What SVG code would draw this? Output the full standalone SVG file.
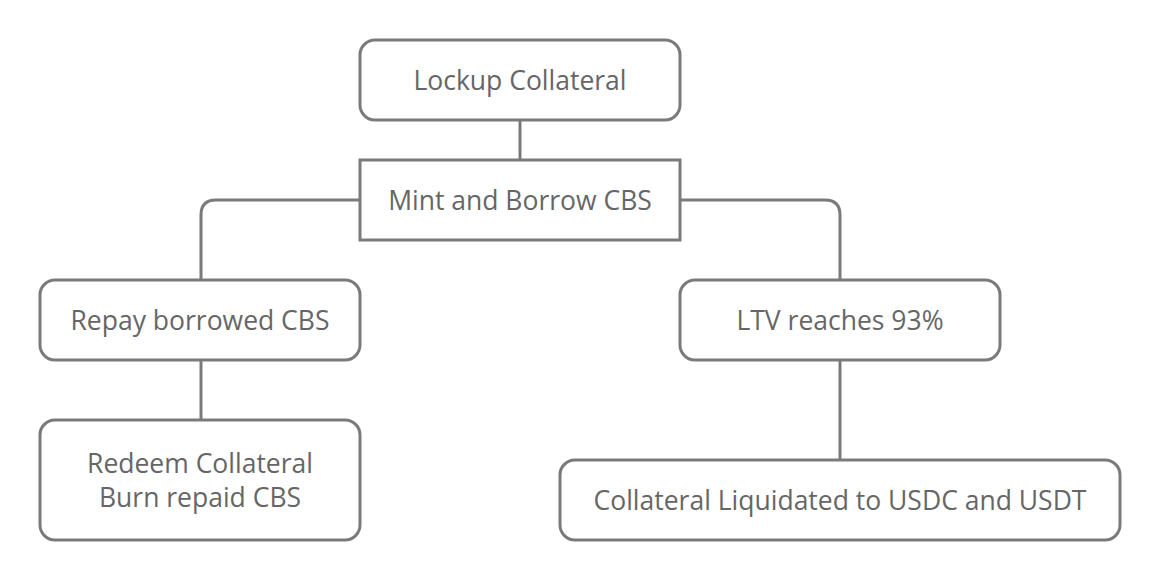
<svg xmlns="http://www.w3.org/2000/svg" width="1160" height="580" viewBox="0 0 1160 580">
<style>
.box{fill:#ffffff;stroke:#7a7a7a;stroke-width:3}
.ln{fill:none;stroke:#7a7a7a;stroke-width:3}
.t{font-family:"Open Sans","Liberation Sans",sans-serif;font-size:26.5px;fill:#666666;text-anchor:middle}
</style>
<rect width="1160" height="580" fill="#ffffff"/>
<g id="connectors">
<path class="ln" d="M520 120 V160"/>
<path class="ln" d="M360 200 H216 Q201 200 201 215 V280"/>
<path class="ln" d="M680 200 H825 Q840 200 840 215 V280"/>
<path class="ln" d="M201 360 V420"/>
<path class="ln" d="M840 360 V460"/>
</g>
<g id="lockup"><rect class="box" x="360" y="40" width="320" height="80" rx="15"/><text class="t" x="520" y="90">Lockup Collateral</text></g>
<g id="mint"><rect class="box" x="360" y="160" width="320" height="80"/><text class="t" x="520" y="210">Mint and Borrow CBS</text></g>
<g id="repay"><rect class="box" x="40" y="280" width="320" height="80" rx="15"/><text class="t" x="200" y="330">Repay borrowed CBS</text></g>
<g id="ltv"><rect class="box" x="680" y="280" width="320" height="80" rx="15"/><text class="t" x="840" y="330">LTV reaches 93%</text></g>
<g id="redeem"><rect class="box" x="40" y="420" width="320" height="120" rx="15"/><text class="t" x="200" y="473">Redeem Collateral</text><text class="t" x="200" y="507">Burn repaid CBS</text></g>
<g id="liquidated"><rect class="box" x="560" y="460" width="560" height="80" rx="15"/><text class="t" x="840" y="510">Collateral Liquidated to USDC and USDT</text></g>
</svg>
